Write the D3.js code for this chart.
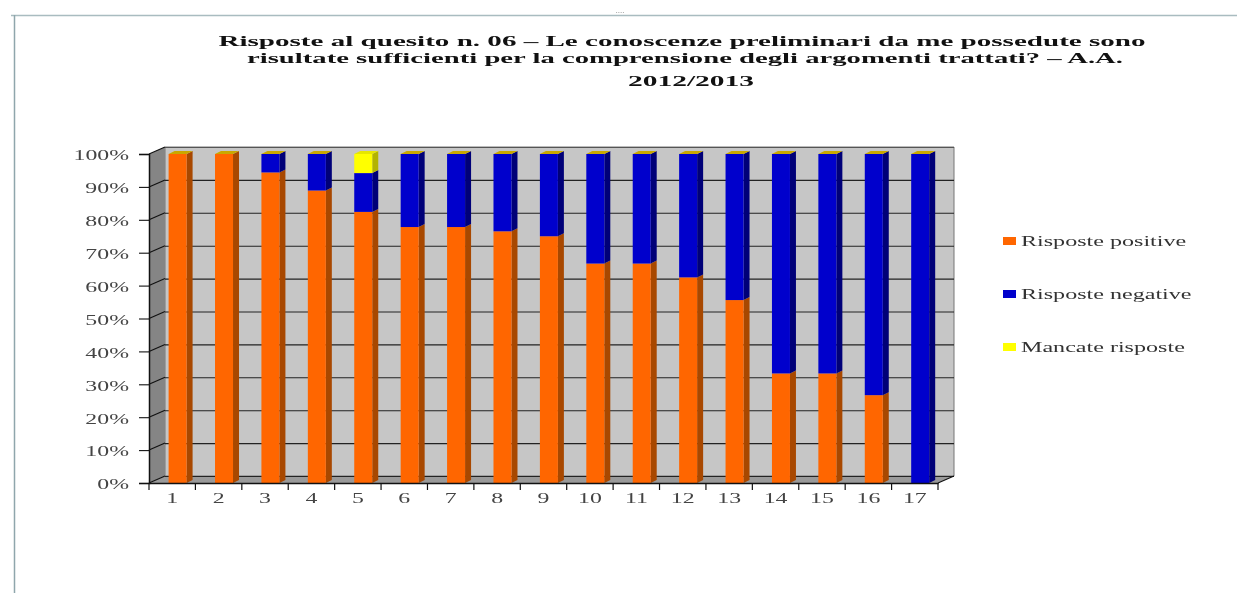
<!DOCTYPE html>
<html><head><meta charset="utf-8"><style>
html,body{margin:0;background:#fff;overflow:hidden}
svg{display:block}
text{font-family:"Liberation Serif",serif}
</style></head><body><svg id="c" width="1237" height="593"></svg>
<script src="https://cdn.jsdelivr.net/npm/d3@7/dist/d3.min.js"></script>
<script>
const categories=["1","2","3","4","5","6","7","8","9","10","11","12","13","14","15","16","17"];
const positive=[100,100,94.4,88.9,82.4,77.8,77.8,76.5,75,66.7,66.7,62.5,55.6,33.3,33.3,26.7,0];
const negative=[0,0,5.6,11.1,11.8,22.2,22.2,23.5,25,33.3,33.3,37.5,44.4,66.7,66.7,73.3,100];
const missing=[0,0,0,0,5.8,0,0,0,0,0,0,0,0,0,0,0,0];
const seriesNames=["Risposte positive","Risposte negative","Mancate risposte"];
const yTicks=[0,10,20,30,40,50,60,70,80,90,100];
const titleLines=["Risposte al quesito n. 06 – Le conoscenze preliminari da me possedute sono","risultate sufficienti per la comprensione degli argomenti trattati? – A.A.","2012/2013"];

const frontCol=["#ff6600","#0000cc","#ffff00"], sideCol=["#a84800","#000078","#b3b300"];
const svg=d3.select("#c");
const x=d3.scaleBand().domain(categories).range([149,938]);
const y=d3.scaleLinear().domain([0,100]).range([483,154]);
const dx=16,dy=-7,bw=18,bd=6,bdy=-3,inset=19.6;
const root=svg.append("g").style("filter","blur(0.55px)");
// stretch real text horizontally, as the reference image is stretched
const stretch=(sel,k)=>sel.each(function(){this.setAttribute("textLength",this.getComputedTextLength()*k);this.setAttribute("lengthAdjust","spacingAndGlyphs");});

// window frame
root.append("line").attr("x1",11).attr("x2",1237).attr("y1",15.5).attr("y2",15.5).attr("stroke","#a9bcc0").attr("stroke-width",1.5);
root.append("line").attr("x1",14.5).attr("x2",14.5).attr("y1",15).attr("y2",593).attr("stroke","#8fa6ac").attr("stroke-width",1.5);
root.append("text").attr("x",620).attr("y",13).attr("font-size",9).attr("fill","#888").attr("text-anchor","middle").text("....");

// title
root.append("g").selectAll("text").data(titleLines).join("text")
 .attr("x",(d,i)=>i==0?682:(i==1?685:691)).attr("y",(d,i)=>[46,63,86][i]).attr("text-anchor","middle")
 .attr("font-size",15).attr("font-weight","bold").attr("fill","#111")
 .attr("textLength",(d,i)=>[927,876,126][i]).attr("lengthAdjust","spacingAndGlyphs").text(d=>d);

// walls
const xl=x.range()[0],xr=x.range()[1],y0=y(0),y1=y(100);
const poly=p=>p.map(q=>q.join(",")).join(" ");
root.append("polygon").attr("points",poly([[xl+dx,y1+dy],[xr+dx,y1+dy],[xr+dx,y0+dy],[xl+dx,y0+dy]])).attr("fill","#c6c6c6").attr("stroke","#777");
root.append("polygon").attr("points",poly([[xl,y1],[xl+dx,y1+dy],[xl+dx,y0+dy],[xl,y0]])).attr("fill","#858585");
root.append("polygon").attr("points",poly([[xl,y0],[xl+dx,y0+dy],[xr+dx,y0+dy],[xr,y0]])).attr("fill","#9a9a9a");

// gridlines on the walls
const grid=root.append("g");
grid.selectAll("line.g").data(yTicks).join("line").attr("class","g").attr("x1",xl+dx).attr("x2",xr+dx)
 .attr("y1",d=>y(d)+dy+.5).attr("y2",d=>y(d)+dy+.5).attr("stroke",d=>d==100?"#555":"#222").attr("stroke-width",1.1);
grid.selectAll("line.s").data(yTicks).join("line").attr("class","s").attr("x1",xl).attr("x2",xl+dx)
 .attr("y1",d=>y(d)).attr("y2",d=>y(d)+dy).attr("stroke","#111").attr("stroke-width",1.1);
root.append("line").attr("x1",xr).attr("x2",xr+dx).attr("y1",y0).attr("y2",y0+dy).attr("stroke","#111").attr("stroke-width",1.1);

// stacked bars
const stack=categories.map((c,i)=>{let b=0;return [positive[i],negative[i],missing[i]].map((v,s)=>{const r={c,s,v,a:b,b:b+v};b+=v;return r;});}).flat();
const xb=d=>x(d.c)+inset;
const bars=root.append("g");
const g=bars.selectAll("g").data(stack.filter(d=>d.v>0)).join("g");
g.append("polygon").attr("points",d=>poly([[xb(d)+bw,y(d.a)],[xb(d)+bw+bd,y(d.a)+bdy],[xb(d)+bw+bd,y(d.b)+bdy],[xb(d)+bw,y(d.b)]])).attr("fill",d=>sideCol[d.s]);
g.append("rect").attr("x",xb).attr("y",d=>y(d.b)).attr("width",bw).attr("height",d=>y(d.a)-y(d.b)).attr("fill",d=>frontCol[d.s]);
// yellow/olive caps at the top of each column (zero-height "mancate risposte")
bars.selectAll("polygon.cap").data(categories).join("polygon").attr("class","cap")
 .attr("points",c=>{const l=x(c)+inset;return poly([[l,y(100)],[l+bw,y(100)],[l+bw+bd,y(100)+bdy],[l+bd,y(100)+bdy]]);})
 .attr("fill",(c,i)=>missing[i]>0?"#e6e600":"#c9a800");

// axes
const ay=d3.axisLeft(y).tickValues(yTicks).tickSize(10).tickPadding(0).tickFormat(d=>d+"%");
const gy=root.append("g").attr("transform",`translate(${xl},0)`).call(ay);
const ax=d3.axisBottom(x).tickSize(0).tickPadding(10);
const gx=root.append("g").attr("transform",`translate(0,${y0})`).call(ax);
const tickPos=d3.range(categories.length+1).map(i=>xl+i*x.step());
gx.selectAll("line.t").data(tickPos).join("line").attr("class","t").attr("x1",d=>d).attr("x2",d=>d).attr("y1",0).attr("y2",7).attr("stroke","#111").attr("stroke-width",1.2);
[gy,gx].forEach(a=>{a.selectAll("path").attr("stroke","#111").attr("stroke-width",1.5);a.selectAll(".tick line").attr("stroke","#111").attr("stroke-width",1.1);
 a.selectAll("text").attr("font-family","Liberation Serif").attr("font-size",14).attr("fill","#444");
 stretch(a.selectAll("text"),1.7);});
gy.selectAll(".tick text").attr("x",-20).attr("dy","0.42em");

// legend
const ly=d3.scalePoint().domain(seriesNames).range([241,347]);
const lg=root.append("g").selectAll("g").data(seriesNames).join("g").attr("transform",d=>`translate(1003,${ly(d)})`);
lg.append("rect").attr("x",0).attr("y",-4).attr("width",13).attr("height",8).attr("fill",(d,i)=>frontCol[i]);
stretch(lg.append("text").attr("x",18).attr("y",5).attr("font-size",14).attr("fill","#333").text(d=>d),1.72);
</script></body></html>
